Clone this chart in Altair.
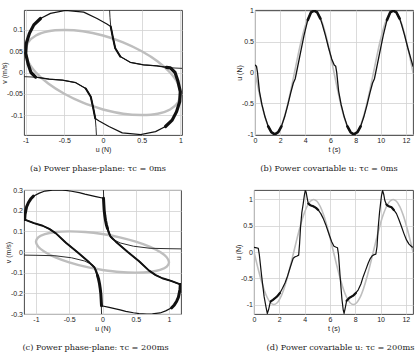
import altair as alt
import pandas as pd

# ---------------- data ----------------
# gray reference ellipse (phase plane), same in (a) and (c)
ELL_U = [0, -0.259, -0.5, -0.707, -0.866, -0.966, -1, -0.966, -0.866, -0.707, -0.5, -0.259,
         0, 0.259, 0.5, 0.707, 0.866, 0.966, 1, 0.966, 0.866, 0.707, 0.5, 0.259, 0]
ELL_V = [-0.087, -0.071, -0.05, -0.026, 0, 0.026, 0.05, 0.071, 0.087, 0.097, 0.1, 0.097,
         0.087, 0.071, 0.05, 0.026, 0, -0.026, -0.05, -0.071, -0.087, -0.097, -0.1, -0.097, -0.087]

# (a) black trajectory loop
A_LOOP_U = [-0.87, -0.93, -0.967, -0.998, -0.99, -0.95, -0.893, -0.807, -0.678, -0.485, -0.249,
            -0.077, 0.05, 0.1, 0.129, 0.158, 0.223, 0.351, 0.523, 0.695, 0.82, 0.87, 0.93, 0.967,
            0.998, 0.99, 0.95, 0.893, 0.807, 0.678, 0.485, 0.249, 0.077, -0.05, -0.1, -0.129,
            -0.158, -0.223, -0.351, -0.523, -0.695, -0.82, -0.87]
A_LOOP_V = [-0.011, 0.0, 0.02, 0.045, 0.069, 0.092, 0.112, 0.127, 0.139, 0.146, 0.142, 0.127,
            0.114, 0.108, 0.081, 0.057, 0.0375, 0.024, 0.018, 0.0157, 0.012, 0.011, 0.0, -0.02,
            -0.045, -0.069, -0.092, -0.112, -0.127, -0.139, -0.146, -0.142, -0.127, -0.114,
            -0.108, -0.081, -0.057, -0.0375, -0.024, -0.018, -0.0157, -0.012, -0.011]
# (a) thin S-curves
A_S1_U = [0.08, 0.085, 0.09, 0.1, 0.129, 0.158, 0.223, 0.351, 0.523, 0.695, 0.845, 0.93, 1.05]
A_S1_V = [0.16, 0.147, 0.13, 0.108, 0.081, 0.057, 0.0375, 0.024, 0.018, 0.0157, 0.0117, 0.0105, 0.0095]
A_S2_U = [-0.08, -0.085, -0.09, -0.1, -0.129, -0.158, -0.223, -0.351, -0.523, -0.695, -0.845, -0.93, -1.05]
A_S2_V = [-0.16, -0.147, -0.13, -0.108, -0.081, -0.057, -0.0375, -0.024, -0.018, -0.0157, -0.0117, -0.0105, -0.0095]

# (c) black trajectory loop
C_LOOP_U = [-1.17, -1.165, -1.155, -1.14, -1.115, -1.08, -1.04, -0.95, -0.865, -0.75, -0.665,
            -0.55, -0.465, -0.35, -0.265, -0.1, 0.015, 0.02, 0.025, 0.035, 0.045, 0.06, 0.075,
            0.12, 0.2, 0.38, 0.55, 0.7, 0.8, 0.9, 1.03, 1.17, 1.165, 1.155, 1.14, 1.115, 1.08,
            1.04, 0.95, 0.865, 0.75, 0.665, 0.55, 0.465, 0.35, 0.265, 0.1, -0.015, -0.02, -0.025,
            -0.035, -0.045, -0.06, -0.075, -0.12, -0.2, -0.38, -0.55, -0.7, -0.8, -0.9, -1.03, -1.17]
C_LOOP_V = [0.157, 0.18, 0.197, 0.22, 0.238, 0.256, 0.27, 0.285, 0.295, 0.299, 0.3, 0.298,
            0.294, 0.287, 0.28, 0.268, 0.26, 0.23, 0.203, 0.175, 0.154, 0.13, 0.114, 0.075, 0.05,
            0.0, -0.045, -0.09, -0.112, -0.127, -0.14, -0.157, -0.18, -0.197, -0.22, -0.238,
            -0.256, -0.27, -0.285, -0.295, -0.299, -0.3, -0.298, -0.294, -0.287, -0.28, -0.268,
            -0.26, -0.23, -0.203, -0.175, -0.154, -0.13, -0.114, -0.075, -0.05, 0.0, 0.045, 0.09,
            0.112, 0.127, 0.14, 0.157]
# (c) thin S-curves
C_S1_U = [0.012, 0.018, 0.025, 0.04, 0.065, 0.09, 0.14, 0.265, 0.465, 0.715, 1.0, 1.2]
C_S1_V = [0.32, 0.26, 0.21, 0.161, 0.117, 0.088, 0.064, 0.044, 0.028, 0.018, 0.016, 0.015]
C_S2_U = [-0.012, -0.018, -0.025, -0.04, -0.065, -0.09, -0.14, -0.265, -0.465, -0.715, -1.0, -1.2]
C_S2_V = [-0.32, -0.26, -0.21, -0.161, -0.117, -0.088, -0.064, -0.044, -0.028, -0.018, -0.016, -0.015]

# gray reference covariable u(t)
TS_T = [0, 0.262, 0.524, 0.785, 1.047, 1.309, 1.571, 1.833, 2.094, 2.356, 2.618, 2.88, 3.142,
        3.403, 3.665, 3.927, 4.189, 4.451, 4.712, 4.974, 5.236, 5.498, 5.76, 6.021, 6.283,
        6.545, 6.807, 7.069, 7.33, 7.592, 7.854, 8.116, 8.378, 8.639, 8.901, 9.163, 9.425,
        9.687, 9.948, 10.21, 10.472, 10.734, 10.996, 11.257, 11.519, 11.781, 12.043, 12.305, 12.566]
TS_GRAY = [0, -0.259, -0.5, -0.707, -0.866, -0.966, -1, -0.966, -0.866, -0.707, -0.5, -0.259, 0,
           0.259, 0.5, 0.707, 0.866, 0.966, 1, 0.966, 0.866, 0.707, 0.5, 0.259, 0,
           -0.259, -0.5, -0.707, -0.866, -0.966, -1, -0.966, -0.866, -0.707, -0.5, -0.259, 0,
           0.259, 0.5, 0.707, 0.866, 0.966, 1, 0.966, 0.866, 0.707, 0.5, 0.259, 0]

# (b) black u(t), tau_c = 0ms
B_T = [0, 0.12, 0.2, 0.35, 0.55, 0.8, 1.05, 1.3, 1.57, 1.85, 2.1, 2.35, 2.6, 2.85, 3.05, 3.2,
       3.3, 3.6, 3.9, 4.2, 4.45, 4.71, 4.95, 5.2, 5.35, 5.6, 5.85, 6.1, 6.3, 6.42, 6.5, 6.65,
       6.85, 7.1, 7.35, 7.6, 7.85, 8.15, 8.4, 8.65, 8.9, 9.15, 9.35, 9.5, 9.6, 9.9, 10.2, 10.5,
       10.75, 11.0, 11.25, 11.5, 11.65, 11.9, 12.15, 12.4, 12.57]
B_U = [0.12, 0.1, 0.0, -0.3, -0.52, -0.72, -0.87, -0.965, -1.0, -0.965, -0.87, -0.72, -0.53,
       -0.32, -0.17, -0.1, 0.0, 0.3, 0.6, 0.85, 0.97, 1.0, 0.97, 0.87, 0.78, 0.6, 0.4, 0.22,
       0.12, 0.1, 0.0, -0.3, -0.52, -0.72, -0.87, -0.965, -1.0, -0.965, -0.87, -0.72, -0.53,
       -0.32, -0.17, -0.1, 0.0, 0.3, 0.6, 0.85, 0.97, 1.0, 0.97, 0.87, 0.78, 0.6, 0.4, 0.22, 0.1]

# (d) black u(t), tau_c = 200ms
D_T = [0, 0.2, 0.34, 0.42, 0.6, 0.8, 0.95, 1.05, 1.15, 1.25, 1.32, 1.5, 1.66, 1.85, 2.05, 2.25,
       2.45, 2.65, 2.84, 3.0, 3.1, 3.25, 3.37, 3.53, 3.6, 3.68, 3.78, 3.89, 3.98, 4.05, 4.12, 4.2,
       4.29, 4.45, 4.68, 4.9, 5.08, 5.28, 5.47, 5.67, 5.87, 6.0, 6.13, 6.32, 6.5, 6.6, 6.68, 6.8,
       6.95, 7.05, 7.12, 7.2, 7.32, 7.55, 7.84, 8.05, 8.24, 8.45, 8.63, 8.83, 9.03, 9.2, 9.35,
       9.5, 9.63, 9.72, 9.82, 9.92, 10.0, 10.08, 10.16, 10.25, 10.34, 10.47, 10.65, 10.87, 11.05,
       11.26, 11.45, 11.66, 11.85, 12.05, 12.25, 12.47, 12.57]
D_U = [0.09, 0.08, 0.07, -0.05, -0.45, -0.85, -1.05, -1.17, -1.1, -0.99, -0.94, -0.91, -0.88,
       -0.84, -0.78, -0.69, -0.59, -0.46, -0.31, -0.19, -0.12, -0.09, -0.08, -0.06, 0.15, 0.48,
       0.75, 0.92, 1.08, 1.17, 1.14, 1.03, 0.92, 0.89, 0.87, 0.84, 0.8, 0.73, 0.64, 0.52, 0.38,
       0.29, 0.2, 0.11, 0.09, 0.08, -0.05, -0.45, -0.9, -1.1, -1.17, -1.08, -0.93, -0.87, -0.83,
       -0.78, -0.72, -0.61, -0.47, -0.34, -0.21, -0.12, -0.07, -0.05, -0.04, 0.1, 0.48, 0.75,
       0.92, 1.08, 1.17, 1.1, 0.98, 0.9, 0.87, 0.85, 0.8, 0.73, 0.62, 0.48, 0.35, 0.23, 0.15,
       0.1, 0.09]

CAPTIONS = ["(a) Power phase-plane: τc = 0ms", "(b) Power covariable u: τc = 0ms",
            "(c) Power phase-plane: τc = 200ms", "(d) Power covariable u: τc = 200ms"]

# ---------------- styling ----------------
BLACK = "#111111"
GRAY = "#bebebe"
SCURVE = "#2e2e2e"
SANS = "Liberation Sans"
SERIF = "DejaVu Serif"


def frame(xs, ys):
    return pd.DataFrame({"x": xs, "y": ys, "i": list(range(len(xs)))})


def isub(df, lo, hi):
    return df.iloc[lo:hi + 1]


def tsub(df, a, b):
    return df[(df.x >= a) & (df.x <= b)]


def panel(layers, xdom, ydom, xvals, yvals, xtitle, ytitle, w, h, caption, dx, yext, ytpad):
    X = alt.X("x:Q", scale=alt.Scale(domain=xdom, nice=False, zero=False),
              axis=alt.Axis(values=xvals, title=xtitle, labelExpr="datum.value + ''",
                            labelFlush=False, titlePadding=2))
    Y = alt.Y("y:Q", scale=alt.Scale(domain=ydom, nice=False, zero=False),
              axis=alt.Axis(values=yvals, title=ytitle, labelExpr="datum.value + ''",
                            minExtent=yext, maxExtent=yext, titlePadding=ytpad))
    charts = []
    for df, color, width, interp in layers:
        charts.append(
            alt.Chart(df).mark_line(clip=True, color=color, strokeWidth=width, interpolate=interp,
                                    strokeCap="round", strokeJoin="round")
            .encode(x=X, y=Y, order="i:Q")
        )
    return alt.layer(*charts).properties(
        width=w, height=h,
        title=alt.Title(caption, orient="bottom", frame="group", anchor="middle", dx=dx, offset=12),
    )


ell = frame(ELL_U, ELL_V)
a_loop = frame(A_LOOP_U, A_LOOP_V)
a_s1 = frame(A_S1_U, A_S1_V)
a_s2 = frame(A_S2_U, A_S2_V)
c_loop = frame(C_LOOP_U, C_LOOP_V)
c_s1 = frame(C_S1_U, C_S1_V)
c_s2 = frame(C_S2_U, C_S2_V)
ts_gray = frame(TS_T, TS_GRAY)
b_blk = frame(B_T, B_U)
d_blk = frame(D_T, D_U)

pa = panel(
    [(ell, GRAY, 2.4, "catmull-rom"),
     (a_s1, SCURVE, 1.0, "linear"), (a_s2, SCURVE, 1.0, "linear"),
     (a_loop, BLACK, 1.2, "linear"),
     (isub(a_loop, 13, 16), BLACK, 2.0, "linear"), (isub(a_loop, 34, 37), BLACK, 2.0, "linear"),
     (isub(a_loop, 0, 7), BLACK, 3.2, "linear"), (isub(a_loop, 20, 28), BLACK, 3.2, "linear")],
    [-1.02, 1.02], [-0.147, 0.147], [-1, -0.5, 0, 0.5, 1], [-0.1, -0.05, 0, 0.05, 0.1],
    "u (N)", "v (m/s)", 158, 125, CAPTIONS[0], -5, 14, 2.5)

pb = panel(
    [(ts_gray, GRAY, 1.6, "catmull-rom"),
     (b_blk, BLACK, 1.3, "linear"),
     (tsub(b_blk, 1.0, 2.15), BLACK, 2.6, "linear"), (tsub(b_blk, 4.2, 5.2), BLACK, 2.6, "linear"),
     (tsub(b_blk, 7.3, 8.4), BLACK, 2.6, "linear"), (tsub(b_blk, 10.5, 11.5), BLACK, 2.6, "linear")],
    [0, 12.566], [-1.01, 1.01], [0, 2, 4, 6, 8, 10, 12], [-1, -0.5, 0, 0.5, 1],
    "t (s)", "u (N)", 158, 125, CAPTIONS[1], -5, 11, 2)

pc = panel(
    [(ell, GRAY, 2.4, "catmull-rom"),
     (c_s1, SCURVE, 1.0, "linear"), (c_s2, SCURVE, 1.0, "linear"),
     (c_loop, BLACK, 1.2, "linear"),
     (isub(c_loop, 22, 31), BLACK, 1.9, "linear"), (isub(c_loop, 53, 62), BLACK, 1.9, "linear"),
     (isub(c_loop, 0, 6), BLACK, 3.0, "linear"), (isub(c_loop, 16, 22), BLACK, 3.0, "linear"),
     (isub(c_loop, 31, 37), BLACK, 3.0, "linear"), (isub(c_loop, 47, 53), BLACK, 3.0, "linear")],
    [-1.18, 1.18], [-0.3, 0.3], [-1, -0.5, 0, 0.5, 1], [-0.3, -0.2, -0.1, 0, 0.1, 0.2, 0.3],
    "u (N)", "v (m/s)", 157, 124, CAPTIONS[2], -7, 10, 2.2)

pd_ = panel(
    [(ts_gray, GRAY, 1.6, "catmull-rom"),
     (d_blk, BLACK, 1.2, "linear"),
     (tsub(d_blk, 1.3, 2.1), BLACK, 2.2, "linear"), (tsub(d_blk, 4.29, 5.1), BLACK, 2.2, "linear"),
     (tsub(d_blk, 7.32, 8.1), BLACK, 2.2, "linear"), (tsub(d_blk, 10.47, 11.1), BLACK, 2.2, "linear")],
    [0, 12.566], [-1.18, 1.18], [0, 2, 4, 6, 8, 10, 12], [-1, -0.5, 0, 0.5, 1],
    "t (s)", "u (N)", 159, 124, CAPTIONS[3], 7, 11, 2)

row1 = alt.hconcat(pa, pb, spacing=51)
row2 = alt.hconcat(pc, pd_, spacing=51)

chart = (
    alt.vconcat(row1, row2, spacing=12)
    .properties(padding={"left": 0, "top": 6, "right": 0, "bottom": 0}, background="white")
    .configure_view(stroke="#333333", strokeWidth=0.9)
    .configure_axis(labelFont=SANS, labelFontSize=7, labelColor="#222222",
                    titleFont=SANS, titleFontSize=7, titleFontWeight="normal", titleColor="#222222",
                    domain=False, ticks=False, labelPadding=1.5,
                    grid=True, gridColor="#d2d2d2", gridWidth=0.8)
    .configure_title(font=SERIF, fontSize=8.2, fontWeight="normal", color="#222222")
)

chart.save("out.html", embed_options={"renderer": "svg", "actions": False})
